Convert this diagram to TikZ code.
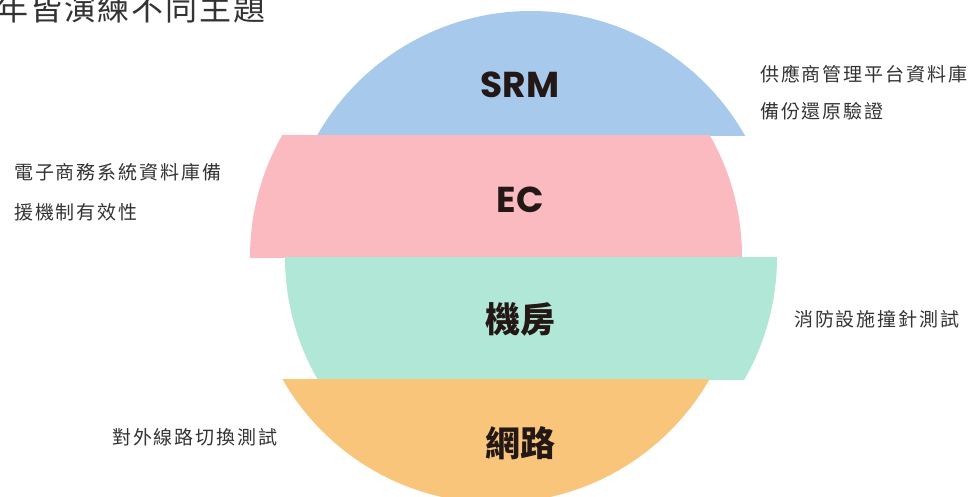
\documentclass[tikz,border=0pt]{standalone}
\usepackage{fontspec}
\newfontfamily\cjk{Noto Sans CJK TC}
\newfontfamily\cjksp[LetterSpace=10]{Noto Sans CJK TC}
\newfontfamily\cjktitle[LetterSpace=6]{Noto Sans CJK TC}
\newfontfamily\lat{Poppins}
\definecolor{srmblue}{HTML}{A7C9EB}
\definecolor{ecpink}{HTML}{FBBAC0}
\definecolor{roommint}{HTML}{B1E7D6}
\definecolor{netorange}{HTML}{F9C57B}
\definecolor{labeldark}{HTML}{231815}
\definecolor{notegray}{HTML}{333333}
\tikzset{
  bandlabel/.style={inner sep=0pt, text=labeldark, anchor=center},
  latlabel/.style={bandlabel, font=\lat\bfseries\fontsize{36}{40}\selectfont, text height=25pt, text depth=0pt},
  cjklabel/.style={bandlabel, font=\cjk\bfseries\fontsize{35}{40}\selectfont, text height=30.8pt, text depth=4.2pt},
  note/.style={inner sep=0pt, anchor=west, text=notegray, font=\cjksp\fontsize{19}{22}\selectfont, text height=16.7pt, text depth=2.3pt},
}
\begin{document}
\begin{tikzpicture}[x=1pt,y=-1pt]
\useasboundingbox (0,0) rectangle (976,496);
% bands of the split circle
\begin{scope}
  \clip (200,0) rectangle (800,135);
  \fill[srmblue] (531,257) circle (246);
\end{scope}
\begin{scope}
  \clip (200,135) rectangle (800,257);
  \fill[ecpink] (496,257) circle (246);
\end{scope}
\begin{scope}
  \clip (200,257) rectangle (800,379);
  \fill[roommint] (531,257) circle (246);
\end{scope}
\begin{scope}
  \clip (200,379) rectangle (800,510);
  \fill[netorange] (496,257) circle (246);
\end{scope}
% band labels
\node[latlabel] (srm) at (520,84.5) {SRM};
\node[latlabel] (ec) at (520,200) {EC};
\node[cjklabel] (room) at (520,319) {機房};
\node[cjklabel] (net) at (520,443) {網路};
% notes
\node[note] (n1a) at (760,74) {供應商管理平台資料庫};
\node[note] (n1b) at (760,111) {備份還原驗證};
\node[note] (n2a) at (14,172) {電子商務系統資料庫備};
\node[note] (n2b) at (14,212) {援機制有效性};
\node[note] (n3) at (794,319) {消防設施撞針測試};
\node[note] (n4) at (112,437) {對外線路切換測試};
% title (cut by the top-left edge)
\node[inner sep=0pt, anchor=west, text=notegray, font=\cjktitle\fontsize{32}{36}\selectfont, text height=28.2pt, text depth=3.8pt] (title) at (-4,8) {年皆演練不同主題};
\end{tikzpicture}
\end{document}
